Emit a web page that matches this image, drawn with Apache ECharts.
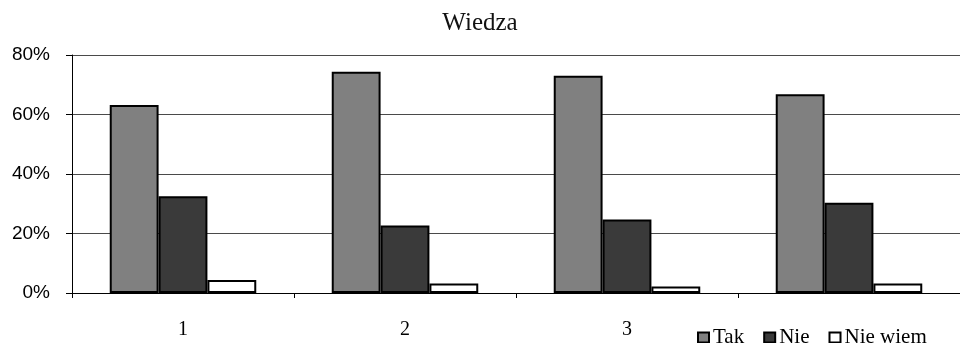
<!DOCTYPE html>
<html>
<head>
<meta charset="utf-8">
<script src="https://cdn.jsdelivr.net/npm/echarts@6/dist/echarts.min.js"></script>
<style>html,body{margin:0;padding:0;background:#fff;}#c{width:960px;height:343px;}</style>
</head>
<body>
<div id="c"></div>
<script>
var titleText = 'Wiedza';
var categories = ['1', '2', '3', ''];
var seriesNames = ['Tak', 'Nie', 'Nie wiem'];
var takValues = [63.2, 74.4, 73.0, 66.8];
var nieValues = [32.5, 22.7, 24.7, 30.3];
var nieWiemValues = [4.4, 3.2, 2.2, 3.2];
var yTicks = [0, 20, 40, 60, 80];

var colors = ['#808080', '#3a3a3a', '#ffffff'];
var serif = '"Liberation Serif", "Times New Roman", serif';
var sans = '"Liberation Sans", Arial, sans-serif';

var chart = echarts.init(document.getElementById('c'));
var dataSets = [takValues, nieValues, nieWiemValues];
chart.setOption({
  animation: false,
  backgroundColor: '#ffffff',
  title: {
    text: titleText, left: 'center', top: 6,
    textStyle: { fontFamily: serif, fontSize: 25, fontWeight: 'normal', color: '#111' }
  },
  legend: {
    data: seriesNames, left: 692, top: 322, itemWidth: 11, itemHeight: 10, itemGap: 19,
    icon: 'rect',
    textStyle: { fontFamily: serif, fontSize: 21, color: '#000', padding: [0, 0, 0, -1] }
  },
  grid: { left: 72, right: -9, top: 55, bottom: 50 },
  xAxis: {
    type: 'category', data: categories,
    axisLine: { lineStyle: { color: '#000', width: 1 } },
    axisTick: { show: true, length: 5, lineStyle: { color: '#000' } },
    axisLabel: { fontFamily: serif, fontSize: 20, color: '#000', margin: 27 }
  },
  yAxis: {
    type: 'value', min: yTicks[0], max: yTicks[yTicks.length - 1], interval: 20,
    axisLine: { show: true, lineStyle: { color: '#000', width: 1 } },
    axisTick: { show: true, length: 6, lineStyle: { color: '#000' } },
    axisLabel: { formatter: '{value}%', fontFamily: sans, fontSize: 19, color: '#000', margin: 22 },
    splitLine: { lineStyle: { color: '#4a4a4a', width: 1.2 } }
  },
  series: seriesNames.map(function (n, i) {
    return {
      name: n, type: 'bar', data: dataSets[i],
      barGap: '0%', barCategoryGap: '34%',
      itemStyle: { color: colors[i], borderColor: '#000', borderWidth: 2 }
    };
  })
});
</script>
</body>
</html>
